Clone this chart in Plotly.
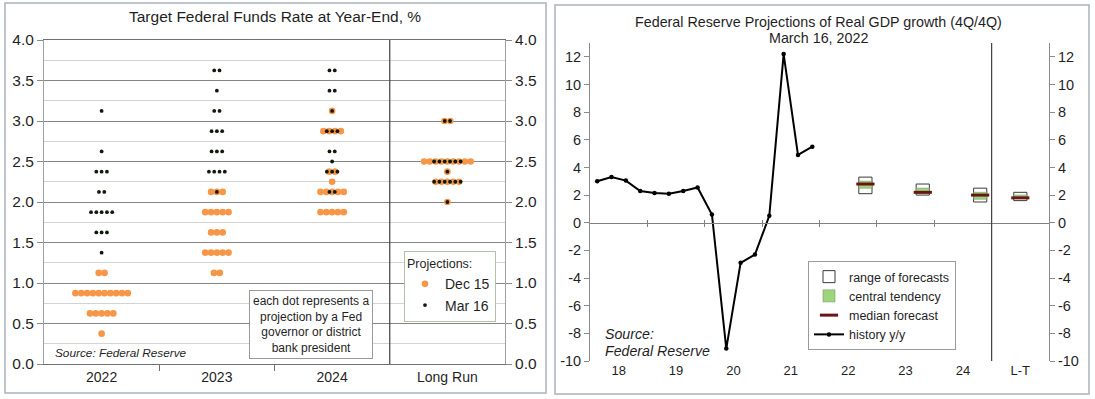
import plotly.graph_objects as go

# ---------------- Left panel data: FOMC dot plot ----------------
categories_left = ["2022", "2023", "2024", "Long Run"]

# rate level -> number of participants (December 2021 projections)
dec15_2022 = {1.125: 2, 0.875: 10, 0.625: 5, 0.375: 1}
dec15_2023 = {2.125: 3, 1.875: 5, 1.625: 3, 1.375: 5, 1.125: 2}
dec15_2024 = {3.125: 1, 2.875: 4, 2.375: 2, 2.25: 1, 2.125: 5, 1.875: 5}
dec15_lr = {3.0: 2, 2.5: 9, 2.375: 1, 2.25: 5, 2.0: 1}

# rate level -> number of participants (March 2022 projections)
mar16_2022 = {3.125: 1, 2.625: 1, 2.375: 3, 2.125: 2, 1.875: 5, 1.625: 3, 1.375: 1}
mar16_2023 = {3.625: 2, 3.375: 1, 3.125: 2, 2.875: 3, 2.625: 3, 2.375: 4, 2.125: 1}
mar16_2024 = {3.625: 2, 3.375: 2, 3.125: 1, 2.875: 3, 2.625: 2, 2.5: 1, 2.375: 3, 2.125: 2}
mar16_lr = {3.0: 2, 2.5: 6, 2.375: 1, 2.25: 6, 2.0: 1}

left_ticks = [0.0, 0.5, 1.0, 1.5, 2.0, 2.5, 3.0, 3.5, 4.0]

# ---------------- Right panel data: real GDP ----------------
years_right = ["18", "19", "20", "21", "22", "23", "24", "L-T"]
hist_quarters = ["18Q1", "18Q2", "18Q3", "18Q4", "19Q1", "19Q2", "19Q3", "19Q4",
                 "20Q1", "20Q2", "20Q3", "20Q4", "21Q1", "21Q2", "21Q3", "21Q4"]
hist_growth = [3.0, 3.3, 3.05, 2.3, 2.15, 2.1, 2.3, 2.55,
               0.6, -9.1, -2.9, -2.3, 0.5, 12.2, 4.9, 5.5]

forecast_labels = ["22", "23", "24", "L-T"]
range_low = [2.1, 2.0, 1.5, 1.6]
range_high = [3.3, 2.8, 2.5, 2.2]
ct_low = [2.5, 2.1, 1.7, 1.8]
ct_high = [3.0, 2.5, 2.2, 2.0]
median_fc = [2.8, 2.2, 2.0, 1.8]
right_ticks = [-10, -8, -6, -4, -2, 0, 2, 4, 6, 8, 10, 12]

# ---------------- geometry ----------------
W, H = 1095, 399
FONT = "Liberation Sans, Arial, sans-serif"
TXT = "#1f1f1f"


def px(x):
    return x / W


def py(y):
    return 1 - y / H


left_xdom = [px(44), px(505)]
left_ydom = [py(364), py(40)]
right_xdom = [px(590), px(1049)]
right_ydom = [py(361), py(43)]
R_YMIN, R_YMAX = -10, 13


def expand(groups, pitch):
    xs, ys = [], []
    for ci, g in enumerate(groups):
        for rate, n in g.items():
            for k in range(n):
                xs.append(ci + 0.5 + (k - (n - 1) / 2) * pitch)
                ys.append(rate)
    return xs, ys


dec_x, dec_y = expand([dec15_2022, dec15_2023, dec15_2024, dec15_lr], 0.0505)
mar_x, mar_y = expand([mar16_2022, mar16_2023, mar16_2024, mar16_lr], 0.046)

fig = go.Figure()

# helper empty traces so overlay axes are drawn
for xa, ya in [("x", "y3"), ("x5", "y"), ("x3", "y2"), ("x4", "y2"), ("x2", "y4")]:
    fig.add_trace(go.Scatter(x=[], y=[], xaxis=xa, yaxis=ya, showlegend=False,
                             hoverinfo="skip"))

fig.add_trace(go.Scatter(
    x=dec_x, y=dec_y, mode="markers", name="Dec 15",
    marker=dict(color="#f79646", size=6.6, line=dict(width=0)),
    xaxis="x", yaxis="y", legend="legend"))
fig.add_trace(go.Scatter(
    x=mar_x, y=mar_y, mode="markers", name="Mar 16",
    marker=dict(color="#101a0c", size=3.8, line=dict(width=0)),
    xaxis="x", yaxis="y", legend="legend"))

# ---- right panel ----
fc_x = [4 + i + 0.8 for i in range(3)] + [7.5]
hist_x = [(int(q[:2]) - 18) + (int(q[-1]) - 0.5) / 4 for q in hist_quarters]

fig.add_trace(go.Bar(
    x=fc_x, y=[h - l for h, l in zip(range_high, range_low)], base=range_low,
    width=0.23, name="range of forecasts",
    marker=dict(color="white", line=dict(color="#3a3a3a", width=1)),
    xaxis="x2", yaxis="y2", legend="legend2"))
fig.add_trace(go.Bar(
    x=fc_x, y=[h - l for h, l in zip(ct_high, ct_low)], base=ct_low,
    width=0.23, name="central tendency",
    marker=dict(color="#9fd47f", line=dict(color="#6f9f55", width=0.6)),
    xaxis="x2", yaxis="y2", legend="legend2"))
fig.add_trace(go.Scatter(
    x=fc_x, y=median_fc, mode="markers", name="median forecast",
    marker=dict(symbol="line-ew", size=13, line=dict(color="#6a1515", width=3)),
    xaxis="x2", yaxis="y2", legend="legend2"))
fig.add_trace(go.Scatter(
    x=hist_x, y=hist_growth, mode="lines+markers", name="history y/y",
    line=dict(color="black", width=2),
    marker=dict(color="black", size=4.5),
    xaxis="x2", yaxis="y2", legend="legend2"))

zero_pos = right_ydom[0] + (0 - R_YMIN) / (R_YMAX - R_YMIN) * (right_ydom[1] - right_ydom[0])

lfont = dict(family=FONT, size=15.5, color=TXT)
rfont = dict(family=FONT, size=14.5, color=TXT)
right_ticktext = [str(v) for v in right_ticks]

fig.update_layout(
    width=W, height=H, margin=dict(l=0, r=0, t=0, b=0, autoexpand=False),
    paper_bgcolor="white", plot_bgcolor="white",
    font=dict(family=FONT, color=TXT),
    barmode="overlay", hovermode=False,
    # left panel
    xaxis=dict(domain=left_xdom, anchor="y", range=[0, 4], automargin=False,
               tickvals=[0.5, 1.5, 2.5, 3.5], ticktext=categories_left,
               ticks="", showgrid=False, zeroline=False,
               showline=True, mirror=True, linecolor="#707070", linewidth=1,
               tickfont=dict(family=FONT, size=14, color=TXT), fixedrange=True),
    xaxis5=dict(overlaying="x", anchor="y", range=[0, 4], tickvals=[1, 2],
                automargin=False,
                ticks="outside", ticklen=6, tickcolor="#707070",
                showticklabels=False, showgrid=False, zeroline=False, showline=False),
    yaxis=dict(domain=left_ydom, anchor="x", range=[0, 4], tickvals=left_ticks,
               automargin=False,
               tickformat=".1f", ticks="outside", ticklen=6, tickcolor="#8a8a8a",
               showline=True, linecolor="#a0a0a0", showgrid=True,
               gridcolor="#858585", gridwidth=1, zeroline=False,
               minor=dict(dtick=0.25, tick0=0, showgrid=True, gridcolor="#d3d3d3",
                          ticks=""),
               tickfont=lfont),
    yaxis3=dict(overlaying="y", anchor="x", side="right", range=[0, 4],
                automargin=False,
                tickvals=left_ticks, tickformat=".1f", ticks="outside", ticklen=6,
                tickcolor="#8a8a8a", showline=True, linecolor="#a0a0a0",
                showgrid=False, zeroline=False, tickfont=lfont),
    # right panel
    xaxis2=dict(domain=right_xdom, anchor="y2", range=[0, 8], automargin=False,
                tickvals=[0.5 + i for i in range(8)], ticktext=years_right,
                ticks="", showgrid=False, zeroline=False, showline=False,
                tickfont=dict(family=FONT, size=13, color=TXT)),
    xaxis3=dict(overlaying="x2", anchor="free", position=zero_pos, range=[0, 8],
                automargin=False,
                tickvals=[1, 2, 3, 4, 5, 6], ticks="outside", ticklen=3,
                tickcolor="#808080", showline=True, linecolor="#808080",
                showticklabels=False, showgrid=False, zeroline=False),
    xaxis4=dict(overlaying="x2", anchor="free", position=zero_pos, range=[0, 8],
                automargin=False,
                tickvals=[1, 2, 3, 4, 5, 6], ticks="inside", ticklen=3,
                tickcolor="#808080", showline=False,
                showticklabels=False, showgrid=False, zeroline=False),
    yaxis2=dict(domain=right_ydom, anchor="x2", range=[R_YMIN, R_YMAX],
                automargin=False,
                tickvals=right_ticks, ticktext=right_ticktext,
                ticks="outside", ticklen=5, tickcolor="#8a8a8a",
                showline=True, linecolor="#8a8a8a", showgrid=False, zeroline=False,
                tickfont=rfont),
    yaxis4=dict(overlaying="y2", anchor="x2", side="right", range=[R_YMIN, R_YMAX],
                automargin=False,
                tickvals=right_ticks, ticktext=right_ticktext,
                ticks="outside", ticklen=5, tickcolor="#8a8a8a",
                showline=True, linecolor="#8a8a8a", showgrid=False, zeroline=False,
                tickfont=rfont),
    legend=dict(x=px(404), y=py(251), xanchor="left", yanchor="top",
                bgcolor="white", bordercolor="#b3c2a6", borderwidth=1,
                font=dict(family=FONT, size=14, color=TXT),
                title=dict(text="Projections:", font=dict(family=FONT, size=12.5, color=TXT)),
                itemwidth=30, tracegroupgap=0),
    legend2=dict(x=px(808), y=py(261), xanchor="left", yanchor="top",
                 bgcolor="white", bordercolor="#9a9a9a", borderwidth=1,
                 font=dict(family=FONT, size=12.5, color=TXT),
                 itemwidth=30, tracegroupgap=0),
)

shapes = [
    # panel frames
    dict(type="rect", xref="paper", yref="paper", x0=px(5), x1=px(546), y0=py(393), y1=py(3),
         line=dict(color="#aab2bd", width=1.5)),
    dict(type="rect", xref="paper", yref="paper", x0=px(555), x1=px(1089), y0=py(394), y1=py(5),
         line=dict(color="#aab2bd", width=1.5)),
    # long-run divider (left)
    dict(type="line", xref="x", yref="y", x0=3, x1=3, y0=0, y1=4,
         line=dict(color="#404040", width=1.2)),
    # L-T divider (right)
    dict(type="line", xref="x2", yref="y2", x0=7, x1=7, y0=-10.6, y1=R_YMAX,
         line=dict(color="#404040", width=1.2)),
]
fig.update_layout(shapes=shapes)

ann = [
    dict(x=px(275), y=py(17), text="Target Federal Funds Rate at Year-End, %",
         font=dict(size=15.5)),
    dict(x=px(818), y=py(22), text="Federal Reserve Projections of Real GDP growth (4Q/4Q)",
         font=dict(size=14.3)),
    dict(x=px(818), y=py(38), text="March 16, 2022", font=dict(size=14.3)),
    dict(x=px(53), y=py(353), text="<i>Source: Federal Reserve</i>", xanchor="left",
         font=dict(size=11.8)),
    dict(x=px(603), y=py(334), text="<i>Source:</i>", xanchor="left", font=dict(size=14.2)),
    dict(x=px(603), y=py(351), text="<i>Federal Reserve</i>", xanchor="left",
         font=dict(size=14.2)),
    dict(x=px(311), y=py(324),
         text="each dot represents a<br>projection by a Fed<br>governor or district<br>bank president",
         font=dict(size=12), bgcolor="white", bordercolor="#9a9a9a", borderwidth=1,
         borderpad=3, align="center"),
]
for a in ann:
    a.setdefault("xref", "paper")
    a.setdefault("yref", "paper")
    a.setdefault("xanchor", "center")
    a.setdefault("yanchor", "middle")
    a.setdefault("showarrow", False)
    a["font"] = dict(family=FONT, color=TXT, **a["font"])
fig.update_layout(annotations=ann)

fig.write_html("out.html", config={"displayModeBar": False, "staticPlot": True},
               post_script="document.body.style.margin='0';document.body.style.overflow='hidden';")
